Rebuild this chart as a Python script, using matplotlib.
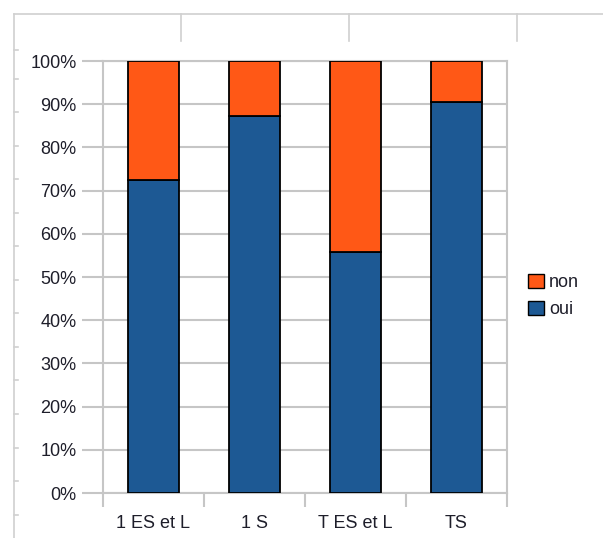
import matplotlib.pyplot as plt
from matplotlib.lines import Line2D
from matplotlib.patches import Patch
import numpy as np

plt.rcParams['font.family'] = ['Liberation Sans', 'DejaVu Sans']

# Données : part de "oui" / "non" par classe (en %)
classes = ['1 ES et L', '1 S', 'T ES et L', 'TS']
oui = [72.5, 87.2, 55.7, 90.5]
non = [27.5, 12.8, 44.3, 9.5]

bleu = '#1d5994'
orange = '#ff5816'
gris = '#c6c6c6'
texte = '#1e1e2a'
taille = 13

fig = plt.figure(figsize=(6.03, 5.38), dpi=100)

# Quadrillage de la feuille de calcul derrière le graphique
W, H = 603, 538
def trait(x0, y0, x1, y1):
    fig.add_artist(Line2D([x0 / W, x1 / W], [1 - y0 / H, 1 - y1 / H],
                          color='#d0d0d0', lw=1.2, transform=fig.transFigure))
trait(14, 14, 603, 14)
trait(14, 14, 14, 538)
for x in [181, 349, 517]:
    trait(x, 14, x, 41)
for y in [50, 79, 112, 146, 179, 213, 246, 280, 313, 347, 380, 414, 448, 481, 515]:
    trait(14, y, 18, y)

ax = fig.add_axes([103 / W, 1 - 493 / H, 404 / W, 432 / H])

x = np.arange(len(classes))
ax.bar(x, oui, width=0.5, color=bleu, edgecolor='black', linewidth=1.3, zorder=3)
ax.bar(x, non, width=0.5, bottom=oui, color=orange, edgecolor='black', linewidth=1.3, zorder=3)

ax.set_xlim(-0.5, len(classes) - 0.5)
ax.set_ylim(0, 100)

ax.set_yticks(np.arange(0, 101, 10))
ax.set_yticklabels([f'{v}%' for v in range(0, 101, 10)])
ax.yaxis.grid(True, color=gris, lw=1.5, zorder=0)
ax.tick_params(axis='y', length=15, width=1.5, color=gris, pad=4,
               labelsize=taille, labelcolor=texte)

# Catégories au centre, graduations entre les catégories
ax.set_xticks(x)
ax.set_xticklabels(classes)
ax.tick_params(axis='x', which='major', length=0, pad=16, labelsize=taille, labelcolor=texte)
ax.set_xticks(np.arange(-0.5, len(classes)), minor=True)
ax.tick_params(axis='x', which='minor', length=10, width=1.5, color=gris)

for s in ax.spines.values():
    s.set_color(gris)
    s.set_linewidth(1.5)

handles = [Patch(facecolor=orange, edgecolor='black', label='non'),
           Patch(facecolor=bleu, edgecolor='black', label='oui')]
fig.legend(handles=handles, loc='center left', bbox_to_anchor=(512 / W, 1 - 296 / H),
           frameon=False, fontsize=taille, handlelength=0.85, handleheight=0.85,
           handletextpad=0.3, labelspacing=0.55, labelcolor=texte)

fig.savefig('out.png', dpi=100)
